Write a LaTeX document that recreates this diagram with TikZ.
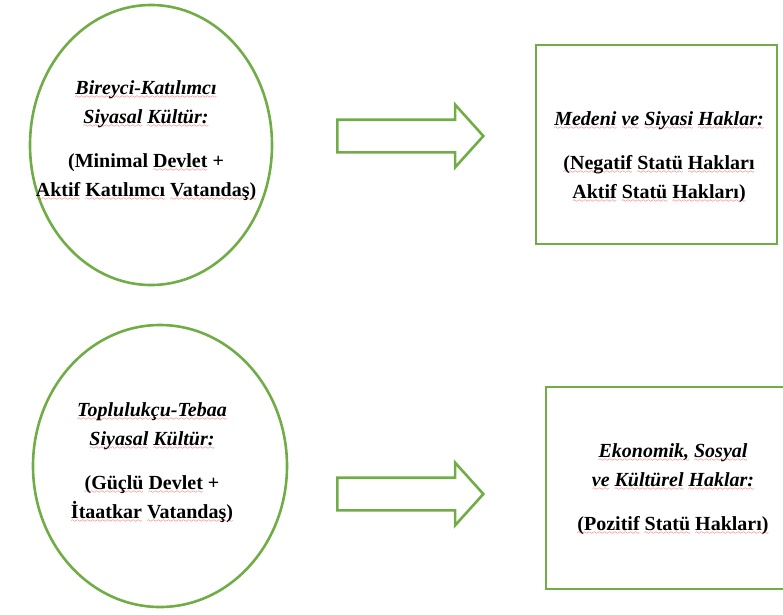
\documentclass[tikz,border=0pt]{standalone}
\usepackage{fontspec}
\setmainfont{Liberation Serif}
\newfontfamily\baslik{Liberation Serif}[ItalicFeatures={FakeBold=2.5}]
\usetikzlibrary{shapes.geometric, shapes.arrows}
\definecolor{kgreen}{HTML}{70AD47}
\font\wavyfont=lasy6
\newcommand\spell[1]{\leavevmode\setbox0\hbox{#1}%
  \rlap{\lower4pt\hbox to\wd0{\color{red}\xleaders\hbox{\wavyfont\char58}\hfill}}\box0\relax}

\begin{document}
\begin{tikzpicture}[x=1pt, y=-1pt,
  frame/.style={draw=kgreen, line width=2.6pt},
  kultur/.style={frame, ellipse, inner sep=0pt},
  haklar/.style={frame, rectangle, inner sep=0pt},
  okbox/.style={frame, single arrow, minimum height=146pt, minimum width=61pt,
    single arrow head extend=15pt, single arrow tip angle=96, inner xsep=0pt, inner ysep=15pt},
  yazi/.style={align=center, font=\bfseries\fontsize{20}{29}\selectfont}]
  \useasboundingbox (0,0) rectangle (783,614);

  % ---- ust satir ----
  \node[kultur, minimum width=242pt, minimum height=280pt] (bireyci) at (151,145) {};
  \node[yazi] (bireyciyazi) at (146,141)
    {{\baslik\itshape\spell{Bireyci-Katılımcı}}\\
     {\baslik\itshape\spell{Siyasal} \spell{Kültür:}}\\[15pt]
     (Minimal \spell{Devlet} +\\
     \spell{Aktif} \spell{Katılımcı} \spell{Vatandaş)}};
  \node[okbox] (ok1) at (403,136) {};
  \node[haklar, minimum width=241pt, minimum height=199pt] (medeni) at (656.5,144.5) {};
  \node[yazi] (medeniyazi) at (659,157)
    {{\baslik\itshape\spell{Medeni} \spell{ve} \spell{Siyasi} \spell{Haklar:}}\\[15pt]
     \spell{(Negatif} \spell{Statü} \spell{Hakları}\\
     \spell{Aktif} \spell{Statü} \spell{Hakları)}};

  % ---- alt satir ----
  \node[kultur, minimum width=254pt, minimum height=282pt] (toplulukcu) at (160,466) {};
  \node[yazi] (toplulukcuyazi) at (152,463)
    {{\baslik\itshape\spell{Toplulukçu-Tebaa}}\\
     {\baslik\itshape\spell{Siyasal} \spell{Kültür:}}\\[15pt]
     \spell{(Güçlü} \spell{Devlet} +\\
     \spell{İtaatkar} \spell{Vatandaş)}};
  \node[okbox] (ok2) at (403,494) {};
  \node[haklar, minimum width=254pt, minimum height=202pt] (ekonomik) at (673,488) {};
  \node[yazi] (ekonomikyazi) at (673,489)
    {{\baslik\itshape\spell{Ekonomik,} \spell{Sosyal}}\\
     {\baslik\itshape\spell{ve} \spell{Kültürel} \spell{Haklar:}}\\[15pt]
     \spell{(Pozitif} \spell{Statü} \spell{Hakları)}};
\end{tikzpicture}
\end{document}
